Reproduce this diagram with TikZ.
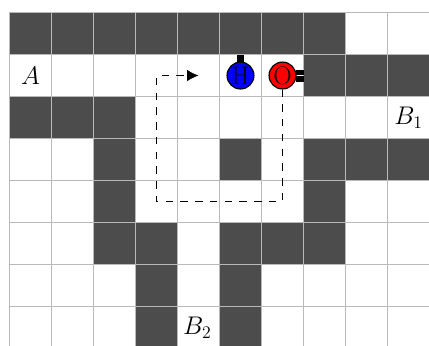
\documentclass[tikz,border=0pt]{standalone}
\usetikzlibrary{arrows.meta}
\tikzset{
    wall/.style={fill=black!70, draw=none},
    atom/.style={draw, circle, thick, minimum size=0.64cm, inner sep=0pt, font=\LARGE},
    route/.style={dash pattern=on 5pt off 5pt, line width=0.5pt},
    bond/.style={line width=0.18cm, shorten <=-1pt},
    dbond/.style={line width=0.125cm, shorten <=-0.6pt}
}
\begin{document}
\begin{tikzpicture}
    \useasboundingbox (-0.226,0.298) rectangle (9.988,-7.917);
    \clip (-0.226,0.298) rectangle (9.988,-7.917);

    % Walls, given as column/row of each cell
    \foreach \cx/\cy in {0/0,1/0,2/0,3/0,4/0,5/0,6/0,7/0,
                         7/1,8/1,9/1,
                         0/2,1/2,2/2,
                         2/3,5/3,7/3,8/3,9/3,
                         2/4,7/4,
                         2/5,3/5,5/5,6/5,7/5,
                         3/6,5/6,
                         3/7,5/7} {
        \fill[wall] (\cx,-\cy) rectangle ++(1,-1);
    }

    % Lattice
    \draw[gray!55, line width=0.6pt] (0,-8) grid (10,0);

    % Labels
    \node (A) at (0.5,-1.5) {\LARGE $A$};
    \node (Bone) at (9.5,-2.5) {\LARGE $B_1$};
    \node (Btwo) at (4.47,-7.5) {\LARGE $B_2$};

    % Atoms
    \node[atom, fill=blue] (atomH) at (5.5,-1.5) {H};
    \node[atom, fill=red] (atomO) at (6.5,-1.5) {O};

    \coordinate (wallH) at (5.5,-1);
    \coordinate (wallO) at (7,-1.5);
    \coordinate (cornerA) at (6.5,-4.5);
    \coordinate (cornerB) at (3.5,-4.5);
    \coordinate (cornerC) at (3.5,-1.5);
    \coordinate (routeEnd) at (4.5,-1.5);

    % Bonds to the walls
    \draw[bond] (atomH) -- (wallH);
    \draw[dbond, transform canvas={yshift=0.08cm}] (atomO) -- (wallO);
    \draw[dbond, transform canvas={yshift=-0.08cm}] (atomO) -- (wallO);

    % Motion of the molecule
    \draw[route, -{Latex[length=0.27cm, width=0.27cm]}] (atomO) -- (cornerA) -- (cornerB) -- (cornerC) -- (routeEnd);
\end{tikzpicture}
\end{document}
